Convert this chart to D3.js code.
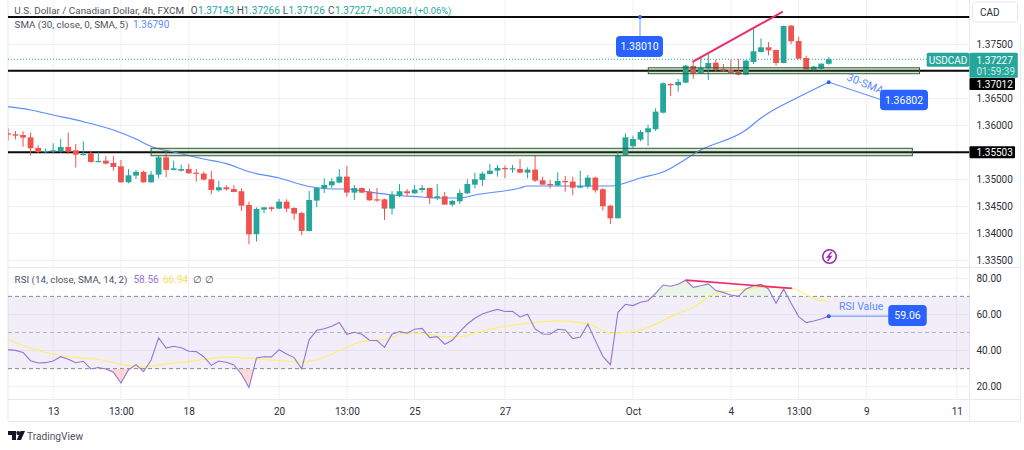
<!DOCTYPE html>
<html>
<head>
<meta charset="utf-8">
<script src="https://cdn.jsdelivr.net/npm/d3@7"></script>
<style>
  html, body { margin: 0; padding: 0; background: #fff; }
  svg { display: block; font-family: Roboto, sans-serif; }
</style>
</head>
<body>
<svg id="chart" width="1024" height="450"></svg>
<script>
// candles, one entry per 4h bar
const opens = [1.35855,1.35837,1.35824,1.35781,1.35584,1.35516,1.35516,1.35522,1.35602,1.35541,
  1.35454,1.35485,1.35325,1.35349,1.35306,1.35244,1.34948,1.35072,1.35140,1.34948,
  1.35090,1.35411,1.35177,1.35164,1.35195,1.35127,1.35109,1.35004,1.34800,1.34856,
  1.34825,1.34782,1.34529,1.33986,1.34442,1.34485,1.34461,1.34590,1.34473,1.34380,
  1.34047,1.34609,1.34837,1.34893,1.34942,1.35053,1.34757,1.34843,1.34775,1.34633,
  1.34633,1.34461,1.34695,1.34782,1.34745,1.34806,1.34843,1.34658,1.34689,1.34535,
  1.34597,1.34745,1.34905,1.34991,1.35102,1.35164,1.35214,1.35195,1.35195,1.35127,
  1.35183,1.34985,1.34917,1.34887,1.34973,1.34961,1.34849,1.34868,1.35035,1.34819,
  1.34516,1.34282,1.35448,1.35615,1.35738,1.35874,1.35930,1.36238,1.36769,1.36745,
  1.36794,1.37102,1.36967,1.37059,1.37164,1.37047,1.37028,1.37004,1.36942,1.37176,
  1.37361,1.37448,1.37399,1.37158,1.37849,1.37565,1.37250,1.37028,1.37053,1.37143];
const highs = [1.35948,1.35898,1.35892,1.35868,1.35633,1.35571,1.35670,1.35750,1.35868,1.35658,
  1.35707,1.35534,1.35503,1.35436,1.35436,1.35362,1.35195,1.35177,1.35164,1.35158,
  1.35436,1.35516,1.35349,1.35275,1.35287,1.35195,1.35146,1.35158,1.34973,1.34893,
  1.34893,1.34837,1.34590,1.34485,1.34492,1.34498,1.34640,1.34633,1.34485,1.34405,
  1.34788,1.34850,1.35022,1.35022,1.35195,1.35251,1.34899,1.34850,1.34825,1.34843,
  1.34646,1.34788,1.34917,1.34825,1.34899,1.34899,1.34850,1.34917,1.34769,1.34621,
  1.34819,1.35004,1.35127,1.35146,1.35287,1.35269,1.35257,1.35269,1.35380,1.35226,
  1.35442,1.35053,1.34991,1.35133,1.35065,1.35053,1.35164,1.35084,1.35053,1.34843,
  1.34529,1.35516,1.35855,1.35812,1.35917,1.36016,1.36319,1.36800,1.36782,1.36862,
  1.37121,1.37176,1.37275,1.37355,1.37226,1.37139,1.37213,1.37232,1.37213,1.37800,
  1.37614,1.37547,1.37399,1.37849,1.37861,1.37645,1.37294,1.37108,1.37152,1.37266];
const lows = [1.35719,1.35744,1.35608,1.35442,1.35485,1.35485,1.35485,1.35497,1.35473,1.35220,
  1.35448,1.35312,1.35318,1.35275,1.35164,1.34942,1.34930,1.35010,1.34942,1.34942,
  1.35022,1.35041,1.35170,1.35146,1.35109,1.34961,1.34985,1.34726,1.34775,1.34794,
  1.34763,1.34418,1.33801,1.33850,1.34374,1.34411,1.34448,1.34399,1.34257,1.33967,
  1.34040,1.34486,1.34751,1.34843,1.34930,1.34683,1.34621,1.34745,1.34603,1.34584,
  1.34251,1.34350,1.34670,1.34683,1.34732,1.34757,1.34547,1.34621,1.34529,1.34498,
  1.34547,1.34732,1.34837,1.34880,1.35096,1.35053,1.35022,1.35127,1.35115,1.35022,
  1.34954,1.34899,1.34831,1.34880,1.34775,1.34708,1.34843,1.34831,1.34757,1.34424,
  1.34177,1.34276,1.35448,1.35578,1.35707,1.35621,1.35900,1.36220,1.36547,1.36627,
  1.36782,1.36868,1.36954,1.36843,1.36997,1.36991,1.36967,1.36930,1.36930,1.37139,
  1.37355,1.37300,1.37108,1.37152,1.37510,1.37226,1.37022,1.37016,1.37016,1.37126];
const closes = [1.35830,1.35812,1.35775,1.35578,1.35510,1.35528,1.35541,1.35602,1.35516,1.35460,
  1.35473,1.35325,1.35343,1.35294,1.35232,1.34948,1.35078,1.35140,1.34948,1.35090,
  1.35411,1.35177,1.35207,1.35195,1.35115,1.35109,1.34998,1.34806,1.34856,1.34819,
  1.34769,1.34516,1.33986,1.34455,1.34485,1.34455,1.34590,1.34461,1.34368,1.34047,
  1.34621,1.34843,1.34899,1.34967,1.35053,1.34757,1.34843,1.34757,1.34615,1.34615,
  1.34461,1.34720,1.34782,1.34745,1.34813,1.34843,1.34658,1.34689,1.34535,1.34603,
  1.34751,1.34917,1.35004,1.35109,1.35164,1.35214,1.35189,1.35207,1.35127,1.35183,
  1.34979,1.34905,1.34893,1.34973,1.34948,1.34849,1.34880,1.35035,1.34800,1.34504,
  1.34282,1.35442,1.35781,1.35750,1.35880,1.35948,1.36257,1.36782,1.36745,1.36806,
  1.37108,1.36967,1.37065,1.37158,1.37028,1.37016,1.36973,1.36942,1.37201,1.37374,
  1.37448,1.37392,1.37158,1.37843,1.37559,1.37238,1.37034,1.37090,1.37145,1.37227];

// 30 SMA, read at the bends of the line
const smaBars = [0,3,6,10,14,17,19,22,26,29,32,36,40,43,45,47,51,55,57,60,62,68,69,72,77,80,84,87,92,98,100,105,109];
const smaValues = [1.36348,1.36287,1.36194,1.36070,1.35917,1.35750,1.35611,1.35509,1.35380,1.35293,1.35144,1.35028,1.34870,1.34824,1.34824,1.34787,1.34713,1.34676,1.34657,1.34657,1.34713,1.34843,1.34880,1.34880,1.34880,1.34880,1.35028,1.35139,1.35546,1.35917,1.36139,1.36528,1.36802];

// RSI per bar
const rsiValues = [40.5,40.1,39.0,34.4,33.1,33.3,34.2,36.6,35.2,33.3,34.1,29.8,30.6,29.8,28.0,22.0,29.3,32.2,28.3,34.8,
  47.0,41.4,42.4,41.6,39.6,39.4,36.6,31.8,34.2,33.5,32.0,26.9,19.5,35.9,36.6,36.5,40.5,38.1,36.1,29.8,
  46.1,51.2,52.1,53.4,55.5,49.0,50.1,49.0,45.7,45.5,41.8,49.0,50.5,49.6,51.8,52.3,47.2,47.7,43.5,45.7,
  50.5,54.7,57.9,60.2,61.6,62.8,61.6,61.7,58.6,60.1,52.0,49.2,49.0,51.8,51.4,46.6,47.5,54.6,45.5,36.8,
  32.2,61.2,65.6,64.9,66.7,67.6,71.7,76.3,75.6,76.7,78.9,75.0,75.9,76.9,73.2,72.2,70.8,70.0,74.1,75.9,
  76.7,74.1,66.2,74.1,66.2,58.8,55.5,56.4,57.5,59.06];

// RSI moving average, read at the bends
const maBars = [0,3,6,9,12,15,18,21,24,29,33,36,39,42,44,46,48,50,53,55,58,60,63,66,69,73,77,80,83,85,89,91,94,97,100,104,107,109];
const maValues = [46.1,41.3,38.1,36.1,35.2,32.4,31.1,32.6,33.9,36.4,35.5,34.4,33.7,36.3,40.0,43.8,45.5,46.0,49.6,49.4,47.7,47.7,50.9,53.4,55.1,56.4,54.9,49.7,50.3,52.9,60.6,64.0,71.7,73.4,75.0,74.5,68.9,66.94];

const priceGrid = [1.38,1.375,1.37,1.365,1.36,1.355,1.35,1.345,1.34,1.335];
const priceLabels = [1.375,1.365,1.36,1.35,1.345,1.34,1.335];
const rsiTicks = [80,60,40,20];
const rsiLevels = [70,50,30];
const timeBars = [6,15,24,36,45,54,66,83,96,105,114,126];
const timeLabels = ["13","13:00","18","20","13:00","25","27","Oct","4","13:00","9","11"];

const levelPrices = [1.38010,1.37012,1.35503];
const zoneLow = {from: 19, to: 120.1, top: 1.35578, bottom: 1.3544};
const zoneHigh = {from: 85.03, to: 121.05, top: 1.37069, bottom: 1.36959};
const lastPrice = 1.37227;

const upColor = "#26a69a", downColor = "#ef5350", blue = "#2962ff", lineBlue = "#5b8cff";
const paneLeft = 8, paneRight = 969.5, rsiTop = 268, rsiBottom = 399.5, mainBottom = 267.5;

const svg = d3.select("#chart");

const x = d3.scaleLinear().domain([0, 109]).range([8, 8 + 109 * 7.53]);
const y = d3.scaleLinear().domain([1.375, 1.34]).range([44.5, 233.5]);
const yRsi = d3.scaleLinear().domain([80, 20]).range([278.3, 386.7]);

const defs = svg.append("defs");
defs.append("clipPath").attr("id", "mainClip").append("rect")
  .attr("x", paneLeft).attr("y", 0).attr("width", paneRight - paneLeft).attr("height", mainBottom);
defs.append("clipPath").attr("id", "overClip").append("rect")
  .attr("x", paneLeft).attr("y", yRsi(90)).attr("width", paneRight - paneLeft).attr("height", yRsi(70) - yRsi(90));
defs.append("clipPath").attr("id", "underClip").append("rect")
  .attr("x", paneLeft).attr("y", yRsi(30)).attr("width", paneRight - paneLeft).attr("height", yRsi(10) - yRsi(30));

// frame
const frameColor = "#e6e9f0";
[[paneLeft, 0, paneLeft, 421.5], [paneRight, 0, paneRight, 421.5], [1020.5, 24, 1020.5, 421.5],
 [paneLeft, 267.5, 1020.5, 267.5], [paneLeft, 399.5, 1020.5, 399.5], [paneLeft, 421.5, 1020.5, 421.5]].forEach(d => {
  svg.append("line").attr("x1", d[0]).attr("y1", d[1]).attr("x2", d[2]).attr("y2", d[3])
    .attr("stroke", frameColor).attr("stroke-width", 1);
});

// grid
const gridColor = "#eff1f7";
const grid = svg.append("g");
grid.selectAll(".vmain").data(timeBars).join("line").attr("class", "vmain")
  .attr("x1", d => x(d)).attr("x2", d => x(d)).attr("y1", 0).attr("y2", rsiBottom)
  .attr("stroke", gridColor);
grid.selectAll(".hmain").data(priceGrid).join("line").attr("class", "hmain")
  .attr("x1", paneLeft).attr("x2", paneRight).attr("y1", d => y(d)).attr("y2", d => y(d))
  .attr("stroke", gridColor);
grid.selectAll(".hrsi").data(rsiTicks).join("line").attr("class", "hrsi")
  .attr("x1", paneLeft).attr("x2", paneRight).attr("y1", d => yRsi(d)).attr("y2", d => yRsi(d))
  .attr("stroke", gridColor);

// support and resistance levels
const main = svg.append("g").attr("clip-path", "url(#mainClip)");
main.selectAll(".level").data(levelPrices).join("line").attr("class", "level")
  .attr("x1", paneLeft).attr("x2", paneRight).attr("y1", d => y(d)).attr("y2", d => y(d))
  .attr("stroke", "#0b0b0b").attr("stroke-width", 2);

// last price dotted line
main.append("line")
  .attr("x1", paneLeft).attr("x2", 928).attr("y1", y(lastPrice)).attr("y2", y(lastPrice))
  .attr("stroke", upColor).attr("stroke-width", 1).attr("stroke-dasharray", "1 2");

// SMA
const smaLine = d3.line().x((d, i) => x(smaBars[i])).y(d => y(d)).curve(d3.curveMonotoneX);
main.append("path").attr("d", smaLine(smaValues))
  .attr("fill", "none").attr("stroke", lineBlue).attr("stroke-width", 1.2);

// candles
const barIndex = d3.range(closes.length);
const candleColor = i => closes[i] >= opens[i] ? upColor : downColor;
main.selectAll(".wick").data(barIndex).join("line").attr("class", "wick")
  .attr("x1", i => x(i)).attr("x2", i => x(i))
  .attr("y1", i => y(highs[i])).attr("y2", i => y(lows[i]))
  .attr("stroke", candleColor).attr("stroke-width", 1);
main.selectAll(".body").data(barIndex).join("rect").attr("class", "body")
  .attr("x", i => x(i) - 2.9).attr("width", 5.8)
  .attr("y", i => y(Math.max(opens[i], closes[i])))
  .attr("height", i => Math.max(1.2, Math.abs(y(opens[i]) - y(closes[i]))))
  .attr("fill", candleColor);

// zones
[zoneLow, zoneHigh].forEach(z => {
  main.append("rect")
    .attr("x", x(z.from)).attr("width", x(z.to) - x(z.from))
    .attr("y", y(z.top)).attr("height", y(z.bottom) - y(z.top))
    .attr("fill", "#4c8c4a").attr("fill-opacity", 0.22)
    .attr("stroke", "#2f5f33").attr("stroke-width", 1);
});

// rising wedge line on price
svg.append("line")
  .attr("x1", x(90.9)).attr("y1", y(1.37176)).attr("x2", x(102.9)).attr("y2", y(1.38107))
  .attr("stroke", "#ee2a68").attr("stroke-width", 2);

function callout(cx, cy, w, h, label) {
  svg.append("rect").attr("x", cx - w / 2).attr("y", cy - h / 2).attr("width", w).attr("height", h)
    .attr("rx", 4).attr("fill", blue);
  svg.append("text").attr("x", cx).attr("y", cy + 3.7).attr("text-anchor", "middle")
    .attr("font-size", 10.5).attr("fill", "#fff").text(label);
}
function dot(px, py) {
  svg.append("circle").attr("cx", px).attr("cy", py).attr("r", 2).attr("fill", blue);
}

// 1.38010 callout
svg.append("line").attr("x1", 640).attr("y1", y(1.3801)).attr("x2", 640).attr("y2", 37)
  .attr("stroke", "#9db8ff").attr("stroke-width", 1.5);
dot(640, y(1.3801));
callout(639.5, 46.5, 47, 21, "1.38010");

// 30-SMA callout
svg.append("line").attr("x1", x(109)).attr("y1", y(1.36802)).attr("x2", 882).attr("y2", 100)
  .attr("stroke", lineBlue).attr("stroke-width", 1);
dot(x(109), y(1.36802));
svg.append("text").attr("transform", "translate(846,80) rotate(22)")
  .attr("font-size", 11).attr("fill", lineBlue).text("30-SMA");
callout(904, 100, 48, 20.5, "1.36802");

// flash icon
svg.append("circle").attr("cx", 829.5).attr("cy", 256.5).attr("r", 6.8)
  .attr("fill", "#fff").attr("stroke", "#9c27b0").attr("stroke-width", 1.6);
svg.append("path").attr("d", "M831.5 252 L827.5 257 L831 256.5 L827.5 261")
  .attr("fill", "none").attr("stroke", "#9c27b0").attr("stroke-width", 1.4);

// RSI pane
const rsi = svg.append("g");
rsi.append("rect").attr("x", paneLeft).attr("width", paneRight - paneLeft)
  .attr("y", yRsi(70)).attr("height", yRsi(30) - yRsi(70))
  .attr("fill", "#7e57c2").attr("fill-opacity", 0.1);
rsi.selectAll(".rsiLevel").data(rsiLevels).join("line").attr("class", "rsiLevel")
  .attr("x1", paneLeft).attr("x2", paneRight).attr("y1", d => yRsi(d)).attr("y2", d => yRsi(d))
  .attr("stroke", d => d === 50 ? "#b5b3bc" : "#8a8a92").attr("stroke-width", 1).attr("stroke-dasharray", "4 3");

const over = d3.area().x((d, i) => x(i)).y0(yRsi(70)).y1(d => yRsi(d));
const under = d3.area().x((d, i) => x(i)).y0(yRsi(30)).y1(d => yRsi(d));
rsi.append("path").attr("d", over(rsiValues)).attr("fill", "#4caf50").attr("fill-opacity", 0.13).attr("clip-path", "url(#overClip)");
rsi.append("path").attr("d", under(rsiValues)).attr("fill", "#f44336").attr("fill-opacity", 0.2).attr("clip-path", "url(#underClip)");

const maLine = d3.line().x((d, i) => x(maBars[i])).y(d => yRsi(d)).curve(d3.curveMonotoneX);
rsi.append("path").attr("d", maLine(maValues)).attr("fill", "none").attr("stroke", "#ffee70").attr("stroke-width", 1.2);
const rsiLine = d3.line().x((d, i) => x(i)).y(d => yRsi(d));
rsi.append("path").attr("d", rsiLine(rsiValues)).attr("fill", "none").attr("stroke", "#9575d2").attr("stroke-width", 1.1);

// bearish divergence line
svg.append("line")
  .attr("x1", x(90)).attr("y1", yRsi(79)).attr("x2", x(104.1)).attr("y2", yRsi(74.4))
  .attr("stroke", "#ee2a68").attr("stroke-width", 1.6);

// RSI value callout
svg.append("line").attr("x1", x(109)).attr("y1", yRsi(59.06)).attr("x2", 889).attr("y2", yRsi(59.06))
  .attr("stroke", lineBlue).attr("stroke-width", 1);
dot(x(109), yRsi(59.06));
svg.append("text").attr("x", 839).attr("y", 310).attr("font-size", 10.5).attr("fill", lineBlue).text("RSI Value");
callout(907.5, 315.5, 38.5, 21, "59.06");

// axes
const axisText = "#2a2e39";
const priceAxis = d3.axisRight(y).tickValues(priceLabels).tickSize(0).tickPadding(0).tickFormat(d3.format(".5f"));
const rsiAxis = d3.axisRight(yRsi).tickValues(rsiTicks).tickSize(0).tickPadding(0).tickFormat(d3.format(".2f"));
const timeAxis = d3.axisBottom(x).tickValues(timeBars).tickSize(0).tickPadding(0).tickFormat((d, i) => timeLabels[i]);

[svg.append("g").attr("transform", "translate(976.5,0)").call(priceAxis),
 svg.append("g").attr("transform", "translate(976.5,0)").call(rsiAxis),
 svg.append("g").attr("transform", "translate(0,407.5)").call(timeAxis)].forEach(a => {
  a.select(".domain").remove();
  a.selectAll("text").attr("font-family", "Roboto, sans-serif").attr("font-size", 10).attr("fill", axisText);
});

// price labels on the axis
svg.append("rect").attr("x", 926.7).attr("y", 52.7).attr("width", 42.8).attr("height", 14).attr("rx", 1.5).attr("fill", upColor);
svg.append("text").attr("x", 948).attr("y", 63.5).attr("text-anchor", "middle").attr("font-size", 10).attr("fill", "#fff").text("USDCAD");
svg.append("rect").attr("x", 969.5).attr("y", 52.7).attr("width", 48.3).attr("height", 25).attr("rx", 1.5).attr("fill", upColor);
svg.append("text").attr("x", 976.5).attr("y", 63.5).attr("font-size", 10).attr("fill", "#fff").text("1.37227");
svg.append("text").attr("x", 976.5).attr("y", 74.5).attr("font-size", 10).attr("fill", "#c8ece8").text("01:59:39");

// black level tags, the upper one is pushed below the last price tag
[[levelPrices[1], 84], [levelPrices[2], y(levelPrices[2])]].forEach(d => {
  svg.append("rect").attr("x", 969.5).attr("y", d[1] - 6).attr("width", 45.5).attr("height", 12).attr("rx", 1).attr("fill", "#000");
  svg.append("text").attr("x", 976.5).attr("y", d[1] + 3.6).attr("font-size", 10).attr("fill", "#fff").text(d3.format(".5f")(d[0]));
});

// currency button
svg.append("rect").attr("x", 972.5).attr("y", 2).attr("width", 45).attr("height", 20).attr("rx", 3.5)
  .attr("fill", "#fff").attr("stroke", "#e6e9f0");
svg.append("text").attr("x", 980).attr("y", 16).attr("font-size", 10).attr("fill", axisText).text("CAD");

// legends, each part placed at its own x
const legendGrey = "#50535e";
function legend(py, parts) {
  parts.forEach(p => {
    svg.append("text").attr("x", p[2]).attr("y", py).attr("font-size", p[3] || 10).attr("fill", p[1]).text(p[0]);
  });
}
legend(13.5, [["U.S. Dollar / Canadian Dollar, 4h, FXCM", legendGrey, 14.3, 9.9],
  ["O", legendGrey, 190.7], ["1.37143", upColor, 198],
  ["H", legendGrey, 236.7], ["1.37266", upColor, 243.5],
  ["L", legendGrey, 282.7], ["1.37126", upColor, 288.5],
  ["C", legendGrey, 328], ["1.37227", upColor, 335],
  ["+0.00084 (+0.06%)", upColor, 372.7, 9.4]]);
legend(27.5, [["SMA (30, close, 0, SMA, 5)", legendGrey, 14.6, 9.8], ["1.36790", lineBlue, 133]]);
legend(283, [["RSI (14, close, SMA, 14, 2)", legendGrey, 14.6, 9.8], ["58.56", "#9575d2", 133.5], ["66.94", "#f5e25a", 163], ["∅", legendGrey, 193], ["∅", legendGrey, 205]]);

// logo
svg.append("path").attr("d", "M8 431 H16 V440 H12 V435 H8 Z M20.5 431 H25 L21 440 H16.8 Z").attr("fill", "#131722");
svg.append("circle").attr("cx", 18.2).attr("cy", 433).attr("r", 1.9).attr("fill", "#131722");
svg.append("text").attr("x", 27).attr("y", 439.5).attr("font-size", 10.2).attr("fill", "#50535e").text("TradingView");
</script>
</body>
</html>
